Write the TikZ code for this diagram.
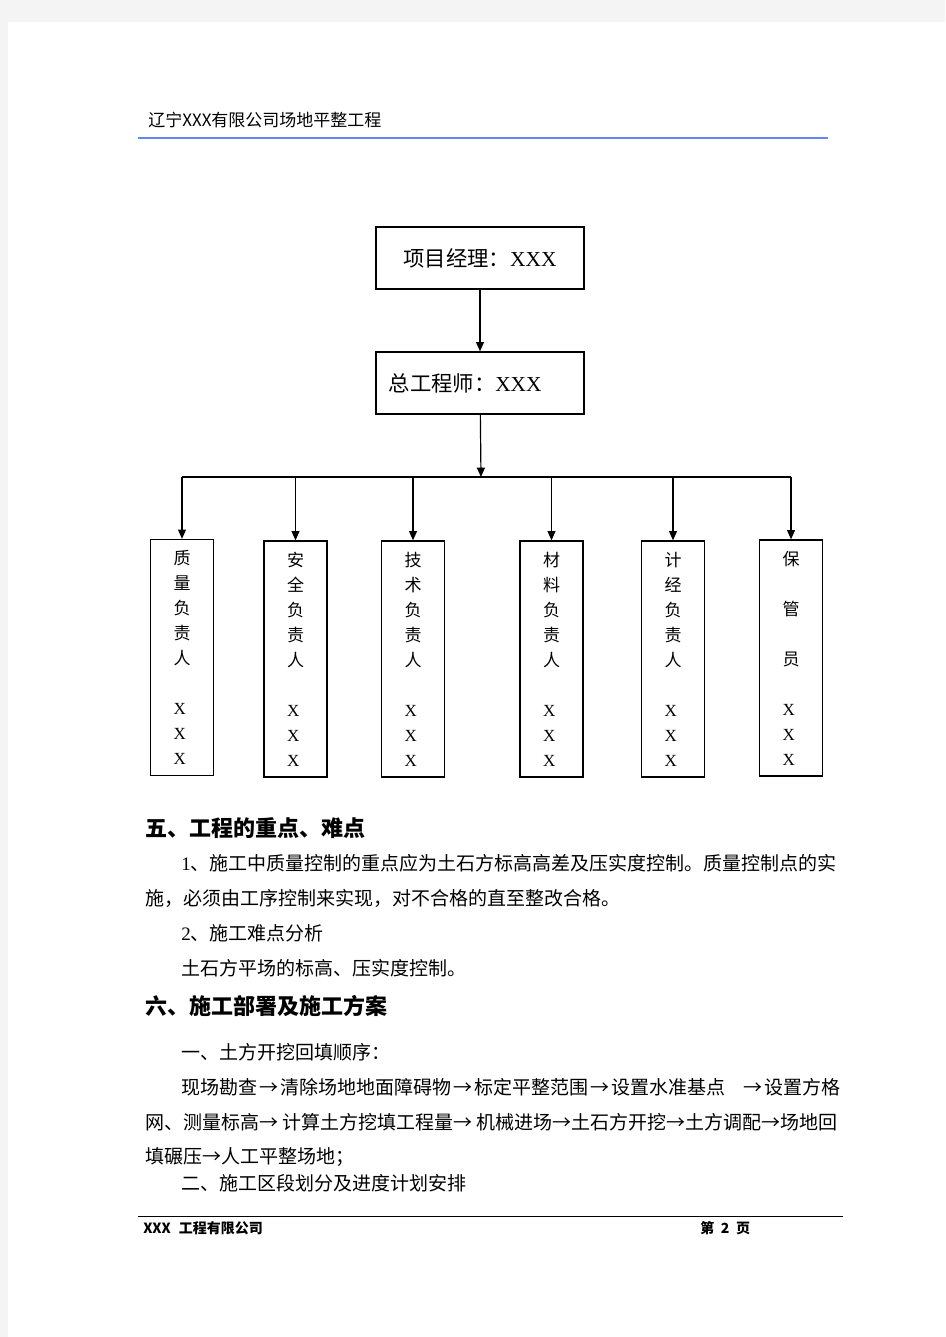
\documentclass[tikz,border=0pt]{standalone}
\usepackage{fontspec}
\setmainfont{Liberation Serif}
\newfontfamily\cjk{Noto Sans CJK SC}
\usetikzlibrary{arrows.meta,positioning}
\definecolor{pagegray}{RGB}{244,244,244}
\definecolor{headblue}{RGB}{96,136,240}
\newcommand\xx{{\rmfamily X}}
\newcommand\flowto{\hspace{1.5pt}→\hspace{1.5pt}}

\begin{document}
\begin{tikzpicture}[
    x=0.75pt, y=-0.75pt,
    box/.style={draw, line width=1pt, inner sep=0pt},
    topbox/.style={box, minimum width=156pt, minimum height=46.5pt, font=\fontsize{16}{18}\selectfont},
    duty/.style={box, minimum width=47.25pt, minimum height=177pt, align=left, font=\fontsize{12.75}{18.75}\selectfont\cjk},
    link/.style={-{Triangle[length=7pt,width=6pt]}, line width=0.9pt},
    body/.style={anchor=west, inner sep=0pt, font=\fontsize{14.25}{16}\selectfont\cjk},
    head/.style={anchor=west, inner sep=0pt, font=\fontsize{16.5}{18}\selectfont\cjk\bfseries},
    foot/.style={anchor=west, inner sep=0pt, font=\fontsize{10.5}{12}\selectfont\cjk\bfseries}
]
    % page
    \useasboundingbox (0,0) rectangle (945,1337);
    \fill[pagegray] (0,0) rectangle (945,1337);
    \fill[white] (8,22) rectangle (945,1337);

    % header
    \node[anchor=west, inner sep=0pt, font=\fontsize{12.75}{14}\selectfont\cjk] (title) at (148,120) {辽宁XXX有限公司场地平整工程};
    \draw[headblue, line width=1.5pt] (138,138) -- (828,138);

    % organisation chart
    \node[topbox] (pm) at (480,258) {{\cjk 项目经理：}XXX};
    \node[topbox, text width=137pt] (ce) at (480,383) {{\cjk 总工程师：}XXX};
    \draw[link] (pm) -- (ce);

    \coordinate (bus) at (481,477);
    \draw[link] (ce) -- (bus);

    \node[duty] (qual) at (182,657.5) {质\\量\\负\\责\\人\\[18.75pt]\xx\\\xx\\\xx};
    \node[duty] (safe) at (295.5,659) {安\\全\\负\\责\\人\\[18.75pt]\xx\\\xx\\\xx};
    \node[duty] (tech) at (413,659) {技\\术\\负\\责\\人\\[18.75pt]\xx\\\xx\\\xx};
    \node[duty] (matl) at (551.5,659) {材\\料\\负\\责\\人\\[18.75pt]\xx\\\xx\\\xx};
    \node[duty] (meas) at (673,659) {计\\经\\负\\责\\人\\[18.75pt]\xx\\\xx\\\xx};
    \node[duty] (keep) at (791,658) {保\\[18.75pt]管\\[18.75pt]员\\[18.75pt]\xx\\\xx\\\xx};

    \draw[line width=0.9pt] (bus -| qual.north) -- (bus -| keep.north);
    \foreach \b in {qual,safe,tech,matl,meas,keep}
        \draw[link] (bus -| \b.north) -- (\b.north);

    % text below the chart
    \node[head] (h5) at (145,828) {五、工程的重点、难点};
    \node[body] (p1) at (181,863) {{\rmfamily 1}、施工中质量控制的重点应为土石方标高高差及压实度控制。质量控制点的实};
    \node[body] (p2) at (145,898) {施，必须由工序控制来实现，对不合格的直至整改合格。};
    \node[body] (p3) at (181,933) {{\rmfamily 2}、施工难点分析};
    \node[body] (p4) at (181,968) {土石方平场的标高、压实度控制。};
    \node[head] (h6) at (145,1006) {六、施工部署及施工方案};
    \node[body] (p5) at (181,1052) {一、土方开挖回填顺序：};
    \node[body] (p6) at (181,1087) {现场勘查\flowto 清除场地地面障碍物\flowto 标定平整范围\flowto 设置水准基点\hspace{12pt}\flowto 设置方格};
    \node[body] (p7) at (145,1122) {网、测量标高→ 计算土方挖填工程量→ 机械进场→土石方开挖→土方调配→场地回};
    \node[body] (p8) at (145,1157) {填碾压→人工平整场地；};
    \node[body] (p9) at (181,1183) {二、施工区段划分及进度计划安排};

    % footer
    \draw[line width=0.75pt] (138,1216) -- (843,1216);
    \node[foot] (firm) at (143,1228) {XXX\hspace{6pt}工程有限公司};
    \node[foot] (page) at (700,1228) {第\hspace{5pt}2\hspace{5pt}页};
\end{tikzpicture}
\end{document}
